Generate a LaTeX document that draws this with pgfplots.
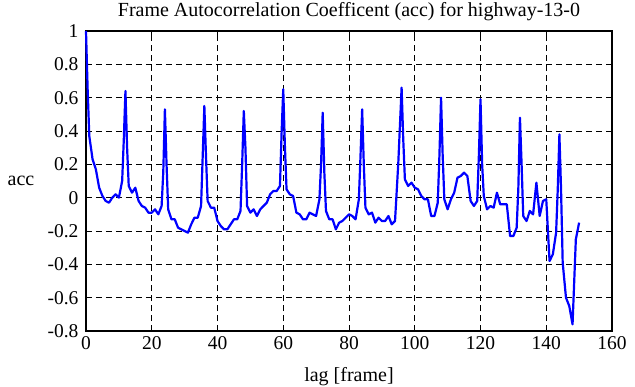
\documentclass[border=0pt]{standalone}
\usepackage{pgfplots}
\pgfplotsset{compat=1.18}
\usepackage{fontspec}
\setmainfont{Liberation Serif}
\begin{document}
\begin{tikzpicture}
\begin{axis}[
  scale only axis,
  width=526bp, height=300bp,
  xmin=0, xmax=160, ymin=-0.8, ymax=1,
  xtick={0,20,...,160},
  ytick={-0.8,-0.6,-0.4,-0.2,0,0.2,0.4,0.6,0.8,1},
  yticklabels={-0.8,-0.6,-0.4,-0.2,0,0.2,0.4,0.6,0.8,1},
  /pgf/number format/assume math mode=true,
  font=\fontsize{20bp}{23bp}\selectfont,
  tick label style={font=\fontsize{19.5bp}{22bp}\selectfont},
  tick align=inside,
  major tick length=5bp,
  tick style={black, line width=0.8bp},
  axis line style={black, line width=1.6bp},
  grid=major,
  major grid style={black, line width=0.8bp, dash pattern=on 6bp off 4bp},
  xticklabel style={yshift=-2bp},
  yticklabel style={xshift=-4bp},
  title={Frame Autocorrelation Coefficent (acc) for highway-13-0},
  title style={at={(0.5,1)}, anchor=south, yshift=1bp},
  xlabel={lag [frame]},
  xlabel style={at={(0.5,0)}, anchor=south, yshift=-58bp},
  ylabel={acc},
  ylabel style={rotate=-90, at={(0,0.5)}, anchor=center, xshift=-65bp},
  clip=false,
]
\addplot[color={rgb,255:red,0;green,0;blue,255}, line width=2.2bp, line join=round] coordinates {
(0,1.00) (0.5,0.65) (1,0.37) (2,0.23) (3,0.17) (4,0.06) (5,0.01) (6,-0.02) (7,-0.03) (8,0.00) (9,0.02) (10,0.00)
(11,0.10) (11.5,0.35) (12,0.64) (12.5,0.30) (13,0.07) (14,0.03) (15,0.06) (16,-0.02) (17,-0.05) (18,-0.06) (19,-0.09) (20,-0.09)
(21,-0.07) (22,-0.10) (23,-0.05) (23.5,0.15) (24,0.53) (24.5,0.20) (25,-0.07) (26,-0.13) (27,-0.13) (28,-0.18) (29,-0.19) (30,-0.20)
(31,-0.21) (32,-0.16) (33,-0.12) (34,-0.12) (35,-0.05) (35.5,0.25) (36,0.55) (36.5,0.25) (37,-0.02) (38,-0.06) (39,-0.06) (40,-0.14)
(41,-0.17) (42,-0.19) (43,-0.19) (44,-0.16) (45,-0.13) (46,-0.13) (47,-0.08) (47.5,0.20) (48,0.52) (48.5,0.30) (49,-0.05) (50,-0.09)
(51,-0.07) (52,-0.11) (53,-0.07) (54,-0.05) (55,-0.03) (56,0.02) (57,0.04) (58,0.04) (59,0.07) (59.5,0.39) (60,0.65) (60.5,0.31)
(61,0.05) (62,0.02) (63,0.01) (64,-0.09) (65,-0.10) (66,-0.13) (67,-0.13) (68,-0.09) (69,-0.10) (70,-0.11)
(71,-0.01) (71.5,0.20) (72,0.51) (72.5,0.15) (73,-0.08) (74,-0.13) (75,-0.13) (76,-0.19) (77,-0.15) (78,-0.14) (79,-0.12) (80,-0.10)
(81,-0.11) (82,-0.13) (83,-0.01) (83.5,0.25) (84,0.53) (84.5,0.20) (85,-0.06) (86,-0.10) (87,-0.09) (88,-0.15) (89,-0.12) (90,-0.14)
(91,-0.14) (92,-0.11) (93,-0.16) (94,-0.14) (95,0.21) (96,0.66) (96.5,0.35) (97,0.11) (98,0.07) (99,0.09) (100,0.06)
(101,0.05) (102,0.01) (103,-0.01) (104,-0.01) (105,-0.11) (106,-0.11) (107,-0.03) (107.5,0.25) (108,0.60) (108.5,0.25) (109,-0.01) (110,-0.07)
(111,-0.01) (112,0.03) (113,0.12) (114,0.13) (115,0.15) (116,0.13) (117,-0.02) (118,-0.05) (119,-0.02) (119.5,0.25) (120,0.59) (120.5,0.20)
(121,0.01) (122,-0.07) (123,-0.05) (124,-0.06) (125,0.03) (126,-0.04) (127,-0.04) (128,-0.04) (129,-0.23) (130,-0.23)
(131,-0.18) (131.5,0.05) (132,0.48) (132.5,0.20) (133,-0.11) (134,-0.14) (135,-0.08) (136,-0.10) (137,0.09) (138,-0.11) (139,-0.02) (140,-0.01)
(141,-0.38) (142,-0.34) (143,-0.21) (143.5,0.05) (144,0.38) (144.5,0.05) (145,-0.39) (146,-0.60) (147,-0.65) (148,-0.76) (149,-0.25) (150,-0.15)
};
\end{axis}
\pgfresetboundingbox
\path[use as bounding box] ([xshift=-86bp,yshift=-56bp]current axis.south west) rectangle ([xshift=23bp,yshift=31bp]current axis.north east);
\end{tikzpicture}
\end{document}
